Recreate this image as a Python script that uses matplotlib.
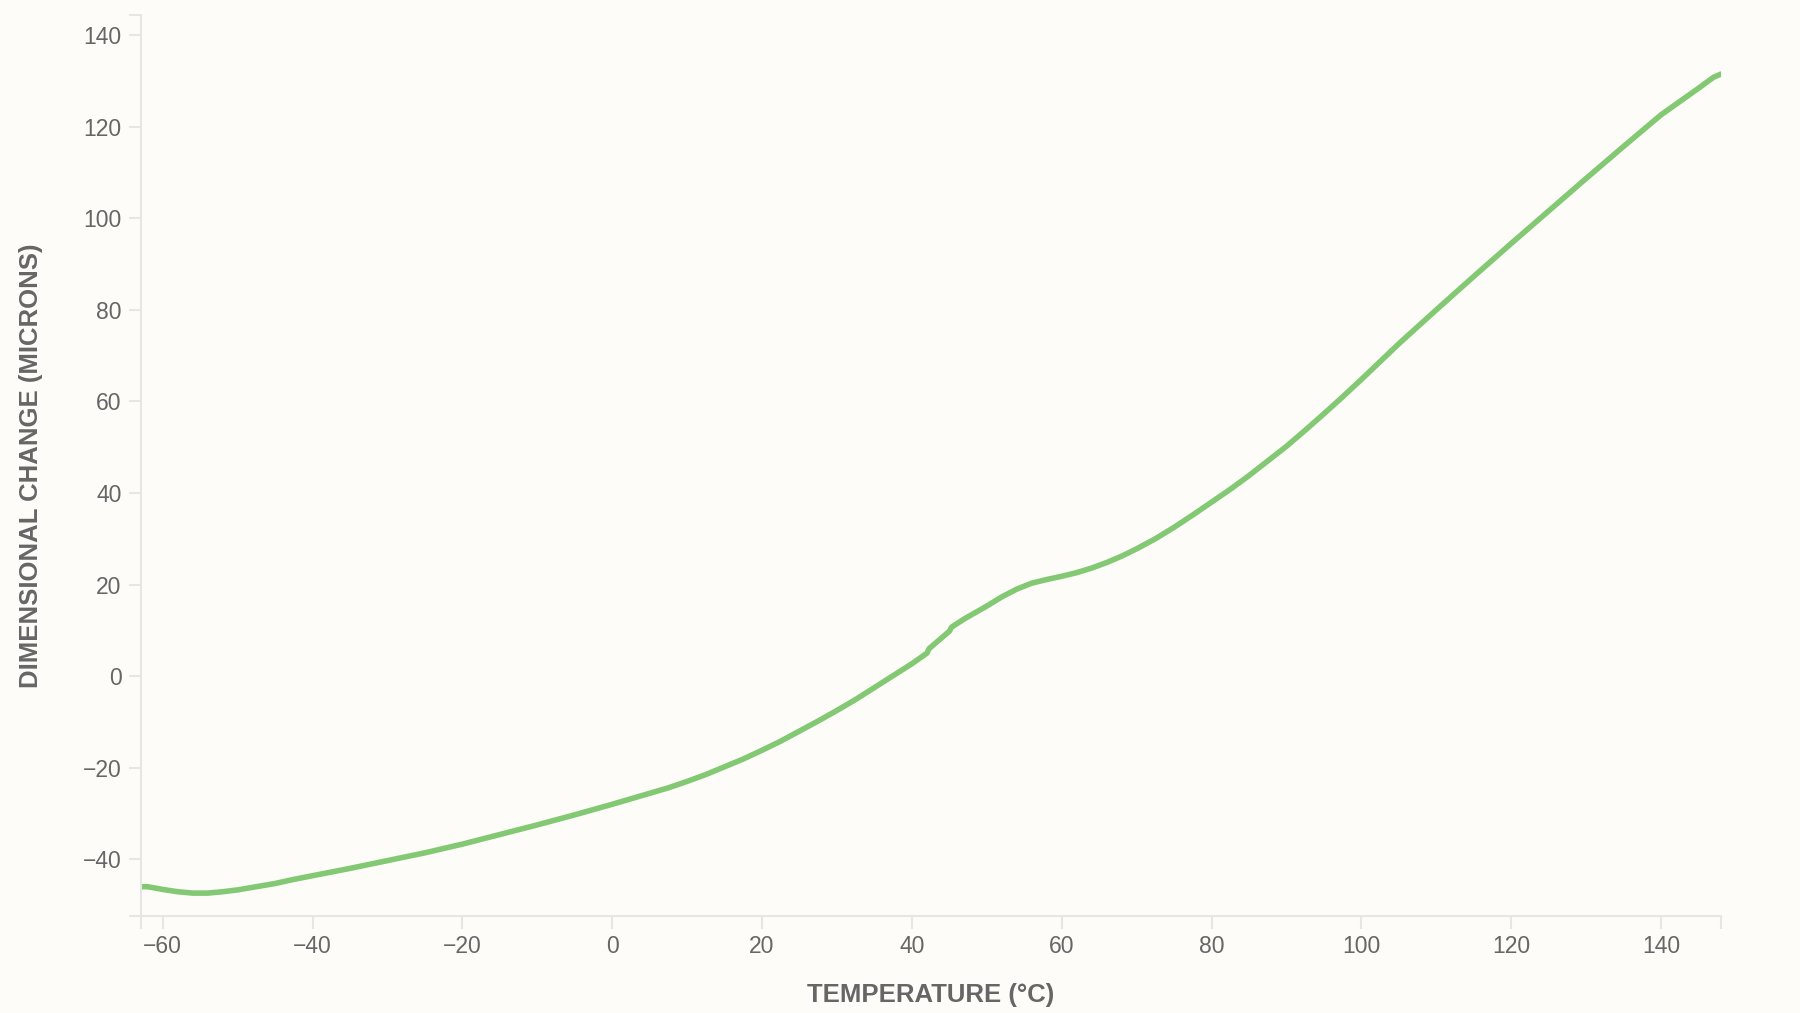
import numpy as np
import matplotlib
matplotlib.use("Agg")
from matplotlib import pyplot as plt

# temperature (°C) vs dimensional change (microns)
temperature = [-63, -62, -60, -58, -56, -54, -52, -50, -47.5, -45, -42.5, -40, -35,
               -30, -25, -20, -15, -10, -5, 0, 5, 7.5, 10, 12.5, 15, 17.5, 20,
               22.5, 25, 27.5, 30, 32.5, 35, 37.5, 40, 42, 42.3, 45, 45.3, 47,
               50, 52, 54, 56, 58, 60, 62, 64, 66, 68, 70, 72.5, 75, 77.5, 80,
               82.5, 85, 87.5, 90, 92.5, 95, 97.5, 100, 102.5, 105, 110, 115,
               120, 125, 130, 135, 140, 145, 146, 147, 148]
dim_change = [-46.0, -46.0, -46.6, -47.1, -47.4, -47.4, -47.1, -46.7, -46.0, -45.3,
              -44.4, -43.6, -42.0, -40.3, -38.6, -36.7, -34.6, -32.5, -30.3, -28.0,
              -25.6, -24.4, -23.0, -21.5, -19.8, -18.1, -16.2, -14.2, -12.0, -9.8,
              -7.5, -5.1, -2.5, 0.1, 2.7, 5.0, 6.0, 9.8, 10.7, 12.5,
              15.3, 17.3, 19.0, 20.3, 21.1, 21.8, 22.6, 23.6, 24.8, 26.2,
              27.8, 30.0, 32.5, 35.2, 38.0, 40.8, 43.8, 47.0, 50.2, 53.7,
              57.3, 61.0, 64.8, 68.7, 72.6, 80.0, 87.3, 94.5, 101.6, 108.7,
              115.7, 122.6, 128.4, 129.6, 130.8, 131.5]
x_ticks = [-60, -40, -20, 0, 20, 40, 60, 80, 100, 120, 140]
y_ticks = [-40, -20, 0, 20, 40, 60, 80, 100, 120, 140]
x_title = "TEMPERATURE (°C)"
y_title = "DIMENSIONAL CHANGE (MICRONS)"

plt.rcParams['font.family'] = ['Liberation Sans', 'DejaVu Sans']
bg = '#fdfcf8'
axis_col = '#e6e6e6'
text_col = '#666666'

fig = plt.figure(figsize=(18, 10.13), dpi=100, facecolor=bg)
ax = fig.add_axes([141/1800, 1-916/1013, 1580/1800, 901/1013])
ax.set_facecolor(bg)

ax.plot(temperature, dim_change, color='#83c974', lw=4, solid_capstyle='round',
        solid_joinstyle='round')

xmin, xmax = -62.9, 148.0
ymin, ymax = -52.4, 144.4
ax.set_xlim(xmin, xmax)
ax.set_ylim(ymin, ymax)

ax.set_xticks(x_ticks)
ax.set_yticks(y_ticks)
# end caps on the axis lines
ax.set_xticks([xmin, xmax], minor=True)
ax.set_yticks([ymin, ymax], minor=True)

for s in ['top', 'right']:
    ax.spines[s].set_visible(False)
for s in ['left', 'bottom']:
    ax.spines[s].set_color(axis_col)
    ax.spines[s].set_linewidth(1.5)

ax.tick_params(which='both', length=9, width=1.5, color=axis_col)
ax.tick_params(which='major', labelsize=16.5, labelcolor=text_col, pad=5)

ax.set_xlabel(x_title, fontsize=18.5, fontweight='bold', color=text_col)
ax.set_ylabel(y_title, fontsize=18.5, fontweight='bold', color=text_col)
ax.xaxis.label.set_va('center')
ax.yaxis.label.set_va('center')
ax.xaxis.set_label_coords(0.5, (916-995)/901)
ax.yaxis.set_label_coords((31-141)/1580, 0.5)

fig.savefig('out.png', dpi=100, facecolor=bg)
